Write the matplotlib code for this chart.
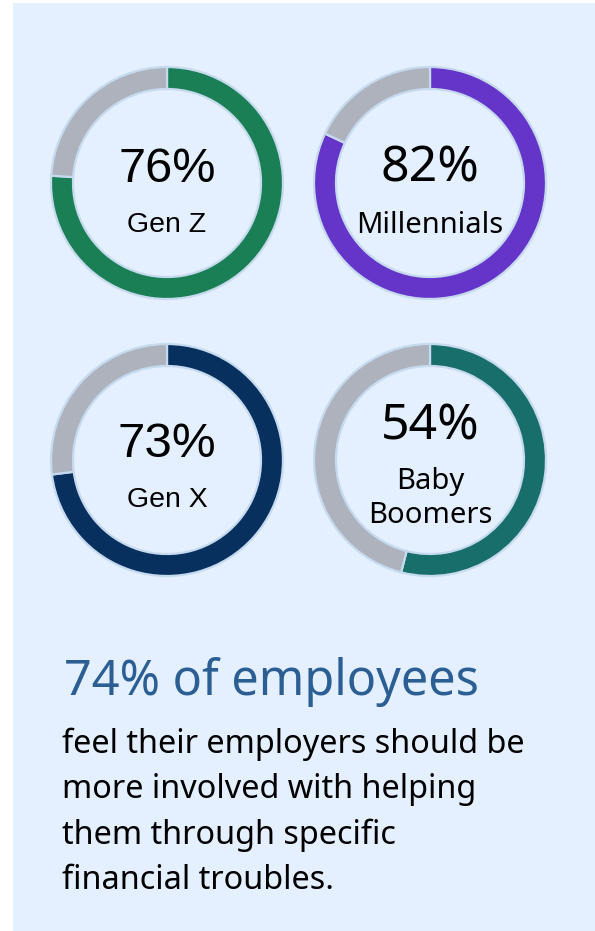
"""
Donut panel: share of employees per generation who want more employer help
"""

import matplotlib.pyplot as plt
from matplotlib.patches import Rectangle

# Generations and their shares (%)
GENERATIONS = ["Gen Z", "Millennials", "Gen X", "Baby\nBoomers"]
SHARES = [76, 82, 73, 54]
RING_COLORS = ["#1b7f55", "#6535c9", "#08305e", "#176e6b"]

HEADLINE = "74% of employees"
BODY_LINES = [
    "feel their employers should be",
    "more involved with helping",
    "them through specific",
    "financial troubles.",
]

# Canvas size in pixels
W, H = 595, 931
BG = "#e4f0ff"
REST_COLOR = "#adb2bc"
EDGE_COLOR = "#c6daef"

# Layout of the four rings (centre x, centre y, outer radius) in pixels
CENTERS = [(167, 183), (430, 183), (167, 460), (430, 460)]
R_OUT = 116
RING_WIDTH = 22

# Fonts and sizes used for the numbers and labels in each ring
RING_FONTS = ["Liberation Sans", "Noto Sans", "Liberation Sans", "Noto Sans"]
NUM_SIZES = [35, 36, 35.5, 36]
LABEL_SIZES = [20.5, 21, 20.5, 21]
# Baselines for the big number and the label lines
NUM_BASE = [182, 182, 457, 440]
LABEL_BASE = [232, 233, 507, 489]


def draw_ring(fig, cx, cy, share, color):
    """Draw one donut ring on its own axes placed in pixel space."""
    rax = fig.add_axes([(cx - R_OUT) / W, 1 - (cy + R_OUT) / H,
                        2 * R_OUT / W, 2 * R_OUT / H])
    rax.pie([share, 100 - share], colors=[color, REST_COLOR],
            startangle=90, counterclock=False, radius=1,
            wedgeprops=dict(width=RING_WIDTH / R_OUT, edgecolor=EDGE_COLOR,
                            linewidth=1.6))
    rax.set_xlim(-1, 1)
    rax.set_ylim(-1, 1)
    rax.axis("off")
    for p in rax.patches:
        p.set_clip_on(False)


fig = plt.figure(figsize=(W / 100, H / 100), dpi=100, facecolor="white")
ax = fig.add_axes([0, 0, 1, 1])
ax.set_xlim(0, W)
ax.set_ylim(H, 0)
ax.axis("off")

# Light blue card behind everything
ax.add_patch(Rectangle((13, 3), W - 13, H - 3, facecolor=BG, edgecolor="none"))

for i, (name, share) in enumerate(zip(GENERATIONS, SHARES)):
    cx, cy = CENTERS[i]
    draw_ring(fig, cx, cy, share, RING_COLORS[i])
    font = RING_FONTS[i]
    ax.text(cx, NUM_BASE[i], f"{share}%", family=font, fontsize=NUM_SIZES[i],
            ha="center", va="baseline", color="black")
    for j, line in enumerate(name.split("\n")):
        ax.text(cx, LABEL_BASE[i] + 34 * j, line, family=font,
                fontsize=LABEL_SIZES[i], ha="center", va="baseline",
                color="black")

# Headline and supporting text
ax.text(64, 695, HEADLINE, family="Noto Sans", fontsize=35,
        color="#2b5e93", ha="left", va="baseline")
for k, line in enumerate(BODY_LINES):
    ax.text(62, 753 + 45.3 * k, line, family="Noto Sans", fontsize=23.3,
            color="black", ha="left", va="baseline")

fig.savefig("out.png", dpi=100, facecolor="white")
